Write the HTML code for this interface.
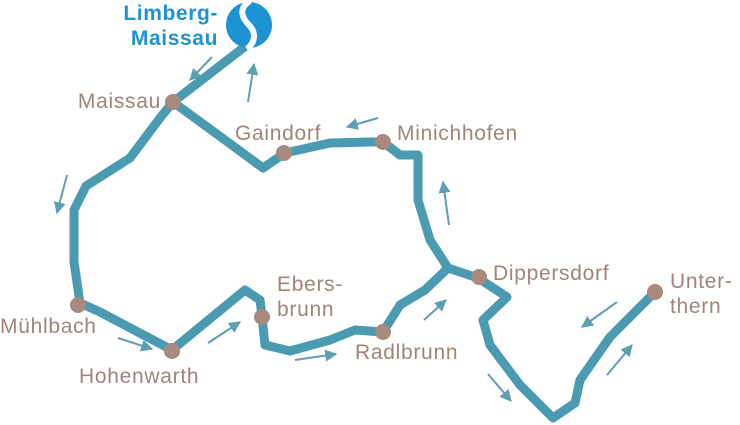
<!DOCTYPE html>
<html><head><meta charset="utf-8"><style>
html,body{margin:0;padding:0;background:#fff;width:740px;height:425px;overflow:hidden}
text{font-family:"Liberation Sans",sans-serif}
</style></head><body>
<svg width="740" height="425" viewBox="0 0 740 425" xmlns="http://www.w3.org/2000/svg">
<defs><marker id="ah" viewBox="0 0 10 10" refX="9" refY="5" markerWidth="6" markerHeight="6" orient="auto"><path d="M0,0L10,5L0,10z" fill="#5d9fb3"/></marker></defs>
<g fill="none" stroke="#4a9bb2" stroke-width="9" stroke-linejoin="round" stroke-linecap="round">
<path d="M247,45 L173,102 L160,118 L130,158 L86,186 L74,210 L74,262 L80,303 L100,312 L172,350 L245,290 L260,300 L262,317 L265,345 L290,351 L330,340 L355,330 L383,332 L400,305 L425,290 L448,268 L478,278 L507,297 L483,320 L490,345 L520,385 L553,418 L575,403 L580,380 L610,337 L655,292"/>
<path d="M173,102 L225,140 L263,168 L285,153 L330,143 L370,142 L383,142 L400,155 L418,155 L418,200 L430,240 L448,268"/>
</g>
<g stroke="#5d9fb3" stroke-width="2" marker-end="url(#ah)">
<line x1="212" y1="57" x2="190" y2="80"/>
<line x1="248" y1="102" x2="254" y2="64"/>
<line x1="378" y1="118" x2="347" y2="127"/>
<line x1="67" y1="175" x2="57" y2="213"/>
<line x1="449" y1="225" x2="443" y2="182"/>
<line x1="118" y1="338" x2="152" y2="349"/>
<line x1="208" y1="343" x2="240" y2="322"/>
<line x1="295" y1="360" x2="336" y2="354"/>
<line x1="424" y1="320" x2="446" y2="300"/>
<line x1="488" y1="374" x2="511" y2="401"/>
<line x1="617" y1="302" x2="582" y2="327"/>
<line x1="607" y1="375" x2="632" y2="345"/>
</g>
<g fill="#a8897d">
<circle cx="173" cy="102" r="8"/><circle cx="284" cy="153" r="8"/><circle cx="383" cy="142" r="8"/>
<circle cx="78" cy="305" r="8"/><circle cx="172" cy="351" r="8"/><circle cx="262" cy="317" r="8"/>
<circle cx="383" cy="332" r="8"/><circle cx="479" cy="277" r="8"/><circle cx="655" cy="292" r="8"/>
</g>
<circle cx="249" cy="25" r="23" fill="#1e93d3"/>
<path d="M250,1 C237,9 243,19 249,25 C255,31 257,41 247,49" fill="none" stroke="#fff" stroke-width="6"/>
<g font-size="21" font-weight="bold" fill="#1e93d3" text-anchor="end" letter-spacing="0.6">
<text x="218" y="20">Limberg-</text><text x="218" y="45">Maissau</text></g>
<g font-size="21" fill="#a0857a" letter-spacing="0.7">
<text x="161" y="108" text-anchor="end">Maissau</text>
<text x="235" y="140">Gaindorf</text>
<text x="397" y="140">Minichhofen</text>
<text x="0" y="333">Mühlbach</text>
<text x="79" y="383">Hohenwarth</text>
<text x="277" y="291">Ebers-</text><text x="277" y="316">brunn</text>
<text x="355" y="359">Radlbrunn</text>
<text x="493" y="280">Dippersdorf</text>
<text x="670" y="288">Unter-</text><text x="670" y="313">thern</text>
</g>
</svg>
</body></html>
